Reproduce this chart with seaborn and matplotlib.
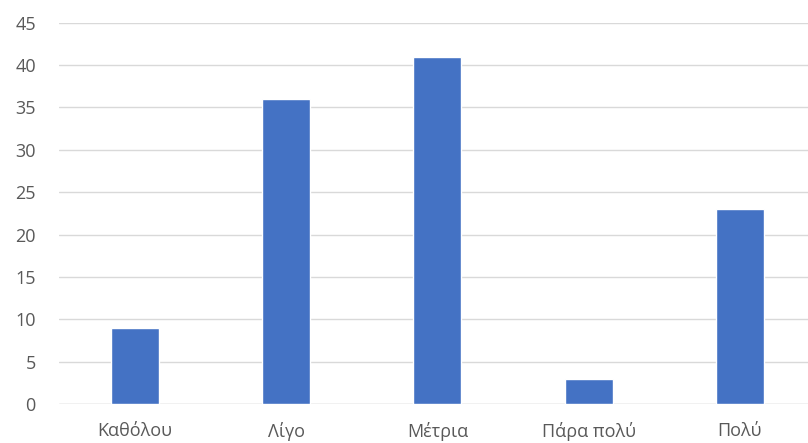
import numpy as np
import pandas as pd
import matplotlib
matplotlib.use('Agg')
import matplotlib.pyplot as plt
import seaborn as sns

# data
categories = ['Καθόλου', 'Λίγο', 'Μέτρια', 'Πάρα πολύ', 'Πολύ']
values = [9, 36, 41, 3, 23]

sns.set_style('white')
plt.rcParams['font.family'] = ['Open Sans', 'Noto Sans', 'DejaVu Sans']

df = pd.DataFrame({'cat': categories, 'val': values})

fig = plt.figure(figsize=(8.08, 4.43), dpi=100)
ax = fig.add_axes([59.4 / 808, 39 / 443, 756 / 808, 381.3 / 443])

sns.barplot(data=df, x='cat', y='val', color='#4472C4', saturation=1,
            width=0.317, ax=ax, zorder=3)

ax.set_ylim(0, 45)
ax.set_yticks(np.arange(0, 46, 5))
ax.yaxis.grid(True, color='#d9d9d9', linewidth=1.0, zorder=0)
ax.set_axisbelow(True)
for s in ax.spines.values():
    s.set_visible(False)
ax.axhline(0, color='#d9d9d9', linewidth=1.0, zorder=1)
ax.set_xlabel('')
ax.set_ylabel('')
ax.tick_params(axis='both', length=0, labelcolor='#595959')
ax.tick_params(axis='y', pad=17, labelsize=13)
ax.tick_params(axis='x', pad=13, labelsize=13)

fig.savefig('out.png', dpi=100)
